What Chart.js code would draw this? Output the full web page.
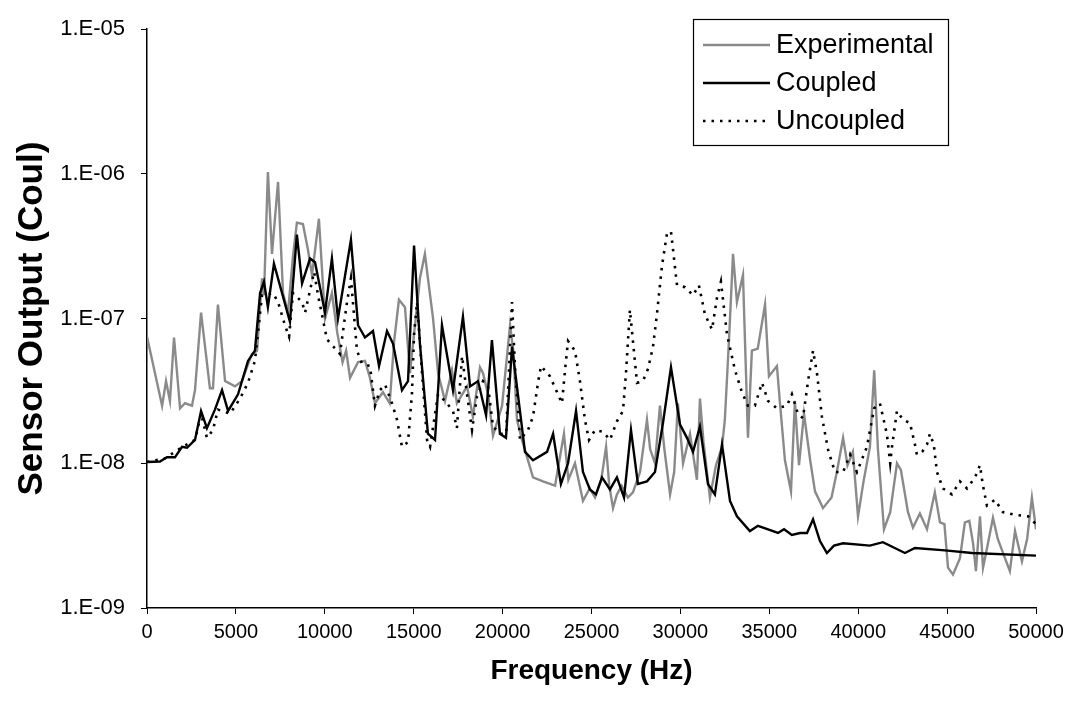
<!DOCTYPE html>
<html>
<head>
<meta charset="utf-8">
<script src="https://cdn.jsdelivr.net/npm/chart.js@4"></script>
<style>
  html, body { margin: 0; padding: 0; background: #fff; }
</style>
</head>
<body>
<canvas id="sensorChart" width="1071" height="704"></canvas>
<script>
// Experimental
var expFreq = [0, 850, 1070, 1290, 1520, 1860, 2140, 2530, 2700, 3040, 3540, 3710, 3990, 4390, 4950, 5340, 5900, 6190, 6470, 6580,
  6800, 7030, 7370, 7650, 7930, 8210, 8430, 8770, 9050, 9280, 9670, 10010, 10400, 10700, 11000, 11200, 11420, 11870, 12260, 12540,
  12820, 13270, 13650, 13900, 14170, 14510, 14790, 15350, 15630, 15800, 16090, 16370, 16760, 17150, 17430, 18000, 18330, 18730, 18900, 19180,
  19460, 19970, 20420, 20600, 20810, 21090, 21710, 22270, 22950, 23450, 23700, 24070, 24520, 24900, 25200, 25550, 25820, 26000, 26210, 26430,
  26700, 27050, 27330, 27730, 28120, 28300, 28570, 28850, 29100, 29420, 29650, 29860, 30150, 30540, 30930, 31100, 31300, 31660, 32000, 32340,
  32500, 32730, 32960, 33180, 33520, 33650, 33800, 34020, 34350, 34760, 34980, 35430, 35600, 35880, 36220, 36440, 36670, 36950, 37300, 37570,
  38020, 38500, 38800, 39150, 39400, 39700, 39990, 40300, 40660, 40900, 41110, 41450, 41800, 42180, 42400, 42800, 43080, 43470, 43870, 44310,
  44600, 44850, 45050, 45330, 45720, 46000, 46250, 46460, 46620, 46850, 47020, 47300, 47580, 47850, 48530, 48820, 49210, 49500, 49770, 50000];
var expVal = [7.5e-8, 2.5e-8, 3.7e-8, 2.7e-8, 7.4e-8, 2.4e-8, 2.6e-8, 2.5e-8, 3.2e-8, 1.1e-7, 3.3e-8, 3.3e-8, 1.25e-7, 3.7e-8, 3.4e-8, 3.7e-8, 5.7e-8, 6.0e-8, 1.9e-7, 1.45e-7,
  1.03e-6, 2.8e-7, 8.8e-7, 1.5e-7, 1.1e-7, 2.7e-7, 4.6e-7, 4.5e-7, 3.0e-7, 2.0e-7, 4.9e-7, 1.0e-7, 1.5e-7, 8e-8, 5e-8, 6e-8, 3.9e-8, 5.0e-8, 5.1e-8, 3.9e-8,
  2.6e-8, 3.1e-8, 2.6e-8, 7e-8, 1.35e-7, 1.2e-7, 4.2e-8, 1.9e-7, 2.8e-7, 1.9e-7, 1.0e-7, 4.2e-8, 2.7e-8, 4.4e-8, 2.6e-8, 3.4e-8, 2.1e-8, 4.6e-8, 4.2e-8, 3.0e-8,
  1.55e-8, 2.5e-8, 9e-8, 6e-8, 2.0e-8, 1.45e-8, 8e-9, 7.5e-9, 7e-9, 1.6e-8, 7.7e-9, 1.0e-8, 5.5e-9, 6.7e-9, 5.8e-9, 7.7e-9, 1.3e-8, 7e-9, 4.9e-9, 6.1e-9,
  7e-9, 5.8e-9, 6.3e-9, 8.7e-9, 2.0e-8, 1.25e-8, 1.0e-8, 2.5e-8, 1.25e-8, 6.1e-9, 8.7e-9, 2.6e-8, 1.0e-8, 1.6e-8, 7.7e-9, 2.8e-8, 1.4e-8, 5.8e-9, 9.7e-9, 1.3e-8,
  2.0e-8, 7e-8, 2.8e-7, 1.3e-7, 2.0e-7, 6e-8, 1.5e-8, 6e-8, 6.2e-8, 1.25e-7, 4e-8, 4.7e-8, 2.6e-8, 1.05e-8, 6.4e-9, 2.7e-8, 9.7e-9, 2.2e-8, 1.05e-8, 6.4e-9,
  4.9e-9, 5.8e-9, 8.7e-9, 1.5e-8, 9.7e-9, 1.2e-8, 4.3e-9, 7.5e-9, 1.3e-8, 4.4e-8, 1.25e-8, 3.5e-9, 4.6e-9, 1.0e-8, 9e-9, 4.6e-9, 3.6e-9, 4.5e-9, 3.5e-9, 6.3e-9,
  3.9e-9, 3.8e-9, 1.9e-9, 1.7e-9, 2.2e-9, 3.9e-9, 4.0e-9, 2.8e-9, 1.8e-9, 4.3e-9, 1.9e-9, 2.8e-9, 4.2e-9, 3.0e-9, 1.8e-9, 3.4e-9, 2.1e-9, 3.0e-9, 5.8e-9, 3.5e-9];

// Coupled
var cplFreq = [0, 730, 1120, 1570, 1970, 2250, 2700, 3040, 3370, 3820, 4220, 4560, 5120, 5680, 6070, 6360, 6580, 6800, 7140, 8040,
  8430, 8720, 9170, 9450, 10010, 10400, 10740, 11470, 11870, 12260, 12710, 13050, 13500, 13840, 14340, 14680, 15020, 15350, 15800, 16200,
  16590, 17210, 17770, 18170, 18620, 19070, 19400, 19850, 20190, 20530, 21260, 21710, 22500, 22840, 23280, 23680, 24130, 24520, 24910, 25250,
  25590, 26040, 26430, 26830, 27220, 27610, 28120, 28570, 29020, 29470, 29980, 30370, 30710, 31100, 31550, 31940, 32340, 32790, 33180, 33910,
  34360, 34930, 35490, 35830, 36270, 36730, 37120, 37460, 37850, 38240, 38640, 39150, 40660, 41390, 42630, 43190, 44880, 46400, 50000];
var cplVal = [1.02e-8, 1.03e-8, 1.1e-8, 1.1e-8, 1.3e-8, 1.28e-8, 1.45e-8, 2.3e-8, 1.75e-8, 2.35e-8, 3.2e-8, 2.3e-8, 3.0e-8, 5.1e-8, 6.0e-8, 1.5e-7, 1.8e-7, 1.2e-7, 2.4e-7, 9.5e-8,
  3.8e-7, 1.75e-7, 2.6e-7, 2.45e-7, 1.1e-7, 2.6e-7, 1.0e-7, 3.5e-7, 9e-8, 7.4e-8, 8.2e-8, 4.7e-8, 8.2e-8, 6.7e-8, 3.2e-8, 3.7e-8, 3.2e-7, 6.7e-8, 1.6e-8, 1.45e-8,
  9e-8, 3.2e-8, 1.03e-7, 3.4e-8, 3.7e-8, 2.15e-8, 7.1e-8, 1.6e-8, 1.5e-8, 6.4e-8, 1.2e-8, 1.05e-8, 1.2e-8, 1.6e-8, 7.2e-9, 1.0e-8, 2.3e-8, 8.7e-9, 6.6e-9, 6.1e-9,
  8e-9, 6.6e-9, 8e-9, 5.8e-9, 1.7e-8, 7.2e-9, 7.5e-9, 8.7e-9, 1.9e-8, 4.6e-8, 1.85e-8, 1.5e-8, 1.2e-8, 1.8e-8, 7.2e-9, 6.1e-9, 1.35e-8, 5.5e-9, 4.3e-9, 3.4e-9,
  3.7e-9, 3.5e-9, 3.3e-9, 3.5e-9, 3.2e-9, 3.3e-9, 3.3e-9, 4.1e-9, 2.9e-9, 2.4e-9, 2.7e-9, 2.8e-9, 2.7e-9, 2.85e-9, 2.4e-9, 2.6e-9, 2.5e-9, 2.4e-9, 2.3e-9];

// Uncoupled
var uncFreq = [0, 1000, 2000, 2700, 3040, 3370, 3710, 3990, 4670, 5230, 5680, 6070, 6470, 7090, 7370, 7760, 7990, 8210, 8720, 8890,
  9400, 9620, 10120, 10850, 11250, 11470, 11810, 12090, 12540, 12820, 13100, 13390, 13780, 14060, 14340, 14680, 14900, 15020, 15190, 15470,
  15750, 15920, 16370, 16760, 17210, 17430, 17720, 18000, 18280, 18560, 18900, 19180, 19460, 19850, 20200, 20530, 20700, 20980, 21430, 21710,
  21990, 22160, 22660, 23340, 23510, 23680, 24070, 24350, 24630, 24860, 25200, 25650, 26040, 26430, 26770, 26940, 27160, 27330, 27560, 27890,
  28180, 28460, 28680, 28960, 29250, 29470, 29810, 30260, 30710, 31040, 31380, 31780, 32060, 32280, 32620, 33070, 33460, 33800, 34190, 34590,
  34930, 35430, 35990, 36270, 36610, 36890, 37180, 37460, 37680, 37960, 38300, 38690, 39150, 39540, 39930, 40490, 40900, 41220, 41610, 41800,
  41900, 42180, 42520, 42910, 43190, 43300, 43600, 43870, 44030, 44250, 44430, 44770, 45270, 45720, 46120, 46570, 46850, 47000, 47240, 47690,
  48140, 48820, 49550, 50000];
var uncVal = [1.02e-8, 1.08e-8, 1.3e-8, 1.45e-8, 2.2e-8, 1.5e-8, 1.7e-8, 2.35e-8, 2.2e-8, 2.8e-8, 3.6e-8, 5.1e-8, 1.45e-7, 1.5e-7, 1.3e-7, 9e-8, 7.5e-8, 1.5e-7, 1.3e-7, 1.1e-7,
  2.1e-7, 1.45e-7, 7.2e-8, 5.7e-8, 1.3e-7, 1.9e-7, 6e-8, 4.9e-8, 4.7e-8, 2.5e-8, 3.2e-8, 3.5e-8, 2.6e-8, 2.0e-8, 1.3e-8, 1.4e-8, 3.0e-8, 7.8e-8, 1.3e-7, 4.2e-8,
  1.45e-8, 1.3e-8, 3.0e-8, 2.7e-8, 2.3e-8, 1.75e-8, 5.5e-8, 3.0e-8, 1.7e-8, 2.9e-8, 3.7e-8, 3.4e-8, 1.8e-8, 1.6e-8, 1.6e-8, 1.3e-7, 4.6e-8, 1.45e-8, 1.7e-8, 2.1e-8,
  3.6e-8, 4.7e-8, 4.0e-8, 2.6e-8, 4.4e-8, 7e-8, 6e-8, 3.7e-8, 2.0e-8, 1.45e-8, 1.7e-8, 1.65e-8, 1.45e-8, 1.95e-8, 2.3e-8, 4.2e-8, 1.15e-7, 7e-8, 3.6e-8, 3.7e-8,
  4.5e-8, 6.4e-8, 1.07e-7, 2.3e-7, 3.9e-7, 4.0e-7, 1.7e-7, 1.65e-7, 1.45e-7, 1.7e-7, 1.07e-7, 8.4e-8, 1.4e-7, 1.8e-7, 7.8e-8, 4.4e-8, 3.1e-8, 2.5e-8, 2.5e-8, 3.6e-8,
  2.7e-8, 2.4e-8, 2.5e-8, 3.0e-8, 2.2e-8, 2.05e-8, 3.7e-8, 6e-8, 4.2e-8, 2.1e-8, 1.25e-8, 8.7e-9, 8.7e-9, 1.15e-8, 8.7e-9, 1.3e-8, 2.4e-8, 2.6e-8, 1.6e-8, 1.0e-8,
  1.3e-8, 2.3e-8, 2.0e-8, 1.9e-8, 1.35e-8, 1.15e-8, 1.2e-8, 1.35e-8, 1.6e-8, 1.35e-8, 8.7e-9, 6.7e-9, 6.1e-9, 7.5e-9, 6.7e-9, 8e-9, 9.7e-9, 7.2e-9, 5.1e-9, 5.6e-9,
  4.6e-9, 4.4e-9, 4.3e-9, 3.8e-9];

var yTicks = [1e-9, 1e-8, 1e-7, 1e-6, 1e-5];
var yTickLabels = ['1.E-09', '1.E-08', '1.E-07', '1.E-06', '1.E-05'];
var seriesNames = ['Experimental', 'Coupled', 'Uncoupled'];

var FONT = "'Liberation Sans', Arial, sans-serif";

function pairs(xs, ys) {
    return xs.map(function (x, i) { return { x: x, y: ys[i] }; });
}

var legendBox = {
    id: 'legendBox',
    afterDraw: function (chart) {
        var ctx = chart.ctx;
        ctx.save();
        ctx.strokeStyle = '#000';
        ctx.lineWidth = 1.2;
        ctx.strokeRect(693.5, 19.5, 255, 126);
        var styles = [
            { color: '#8a8a8a', width: 2.4, dash: [] },
            { color: '#000', width: 2.4, dash: [] },
            { color: '#000', width: 2.6, dash: [2.5, 6] }
        ];
        ctx.font = '27px ' + FONT;
        ctx.textBaseline = 'middle';
        ctx.fillStyle = '#000';
        seriesNames.forEach(function (name, i) {
            var y = 45 + i * 38;
            ctx.beginPath();
            ctx.setLineDash(styles[i].dash);
            ctx.strokeStyle = styles[i].color;
            ctx.lineWidth = styles[i].width;
            ctx.moveTo(703, y);
            ctx.lineTo(770, y);
            ctx.stroke();
            ctx.setLineDash([]);
            ctx.fillText(name, 776, y + 1);
        });
        ctx.restore();
    }
};

var ctx = document.getElementById('sensorChart').getContext('2d');
new Chart(ctx, {
    type: 'line',
    data: {
        datasets: [{
            label: seriesNames[0],
            data: pairs(expFreq, expVal),
            borderColor: '#8a8a8a',
            borderWidth: 2.4,
            order: 2
        }, {
            label: seriesNames[1],
            data: pairs(cplFreq, cplVal),
            borderColor: '#000',
            borderWidth: 2.4,
            order: 0
        }, {
            label: seriesNames[2],
            data: pairs(uncFreq, uncVal),
            borderColor: '#000',
            borderWidth: 2.6,
            borderDash: [2.5, 6],
            order: 1
        }]
    },
    options: {
        responsive: false,
        animation: false,
        events: [],
        elements: {
            point: { radius: 0 },
            line: { tension: 0, fill: false }
        },
        layout: { padding: { top: 21, right: 35, left: 0, bottom: 0 } },
        plugins: {
            legend: { display: false },
            tooltip: { enabled: false }
        },
        scales: {
            x: {
                type: 'linear',
                min: 0,
                max: 50000,
                afterFit: function (s) { s.height = 96; },
                ticks: {
                    stepSize: 5000,
                    color: '#000',
                    padding: 6,
                    maxRotation: 0,
                    font: { family: FONT, size: 20 },
                    callback: function (v) { return String(v); }
                },
                grid: { drawOnChartArea: false, tickLength: 6, color: '#000' },
                border: { color: '#000', width: 1.5 },
                title: {
                    display: true,
                    text: 'Frequency (Hz)',
                    color: '#000',
                    font: { family: FONT, size: 28, weight: 'bold' },
                    padding: { top: 0, bottom: 16 }
                }
            },
            y: {
                type: 'logarithmic',
                min: 1e-9,
                max: 1e-5,
                afterFit: function (s) { s.width = 147; },
                afterBuildTicks: function (s) {
                    s.ticks = yTicks.map(function (v) { return { value: v }; });
                },
                ticks: {
                    color: '#000',
                    padding: 16,
                    font: { family: FONT, size: 22 },
                    callback: function (v) {
                        var i = yTicks.indexOf(v);
                        return i >= 0 ? yTickLabels[i] : '';
                    }
                },
                grid: { drawOnChartArea: false, tickLength: 6, color: '#000' },
                border: { color: '#000', width: 1.5 },
                title: {
                    display: true,
                    text: 'Sensor Output (Coul)',
                    color: '#000',
                    font: { family: FONT, size: 35, weight: 'bold' },
                    padding: { top: 11, bottom: 0 }
                }
            }
        }
    },
    plugins: [legendBox]
});
</script>
</body>
</html>
